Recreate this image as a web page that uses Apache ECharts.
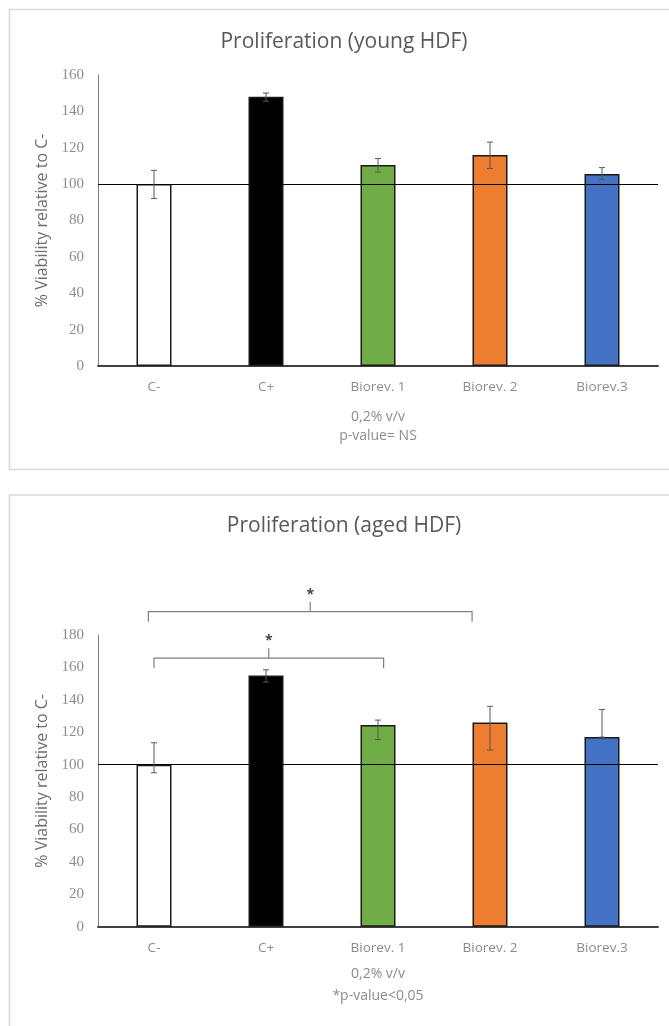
<!DOCTYPE html>
<html>
<head>
<meta charset="utf-8">
<script src="https://cdn.jsdelivr.net/npm/echarts@6/dist/echarts.min.js"></script>
<style>
  html, body { margin: 0; padding: 0; background: #fff; }
  #chart { width: 669px; height: 1026px; }
</style>
</head>
<body>
<div id="chart"></div>
<script>
// categories and colours of the bars
const categories = ['C-', 'C+', 'Biorev. 1', 'Biorev. 2', 'Biorev.3']
const barColors = ['#ffffff', '#000000', '#70ad47', '#ed7d31', '#4472c4']

// young HDF
const youngValues = [100, 148, 110.5, 116, 105.5]
const youngErrPlus = [7.5, 2, 3.5, 7, 3.5]
const youngErrMinus = [8, 2.5, 4, 7.5, 3]

// aged HDF
const agedValues = [100, 155, 124.5, 126, 117]
const agedErrPlus = [13.5, 3.5, 3, 10, 17]
const agedErrMinus = [5, 4, 9, 17, 0]

// significance brackets on the aged chart (category index from/to, value level)
const bracketFrom = [0, -0.05]
const bracketTo = [2.05, 2.84]
const bracketLevel = [165.7, 194.4]

const chart = echarts.init(document.getElementById('chart'))

const labelColor = '#8c8c8c'
const font = 'Open Sans'

function barData(values) {
  return values.map((v, i) => ({
    value: v,
    itemStyle: { color: barColors[i] }
  }))
}

function errData(values, plus, minus) {
  return values.map((v, i) => [i, v, plus[i], minus[i]])
}

function renderError(params, api) {
  const idx = api.value(0)
  const v = api.value(1)
  const hi = api.coord([idx, v + api.value(2)])
  const lo = api.coord([idx, v - api.value(3)])
  const w = 3
  const style = { stroke: '#595959', lineWidth: 1 }
  return {
    type: 'group',
    children: [
      { type: 'line', shape: { x1: hi[0], y1: hi[1], x2: lo[0], y2: lo[1] }, style },
      { type: 'line', shape: { x1: hi[0] - w, y1: hi[1], x2: hi[0] + w, y2: hi[1] }, style },
      { type: 'line', shape: { x1: lo[0] - w, y1: lo[1], x2: lo[0] + w, y2: lo[1] }, style }
    ]
  }
}

function renderBracket(params, api) {
  const from = api.value(0)
  const to = api.value(1)
  const level = api.value(2)
  const x0 = api.coord([0, level])[0]
  const band = api.size([1, 0])[0]
  const y = api.coord([0, level])[1]
  const xa = x0 + from * band
  const xb = x0 + to * band
  const xc = (xa + xb) / 2
  const drop = 10
  const tick = 10
  const style = { stroke: '#7f7f7f', lineWidth: 1.2 }
  return {
    type: 'group',
    children: [
      { type: 'polyline', shape: { points: [[xa, y + drop], [xa, y], [xb, y], [xb, y + drop]] }, style: Object.assign({ fill: 'none' }, style) },
      { type: 'line', shape: { x1: xc, y1: y, x2: xc, y2: y - tick }, style },
      { type: 'text', x: xc, y: y - tick - 7, style: { text: '*', fill: '#404040', font: 'bold 14px Open Sans', align: 'center', verticalAlign: 'middle' } }
    ]
  }
}

const gridDefs = [
  { left: 98, top: 74.8, width: 560, height: 291.2 },
  { left: 98, top: 635, width: 560, height: 291.7 }
]

function xAxisDef(gridIndex, name, gap, lh) {
  return {
    type: 'category',
    gridIndex,
    data: categories,
    axisLine: { lineStyle: { color: '#404040', width: 2 } },
    axisTick: { show: false },
    axisLabel: { color: labelColor, fontFamily: font, fontSize: 13.5, margin: 14 },
    name,
    nameLocation: 'middle',
    nameGap: gap,
    nameTextStyle: { color: labelColor, fontFamily: font, fontSize: 14, lineHeight: lh }
  }
}

function yAxisDef(gridIndex, max) {
  return {
    type: 'value',
    gridIndex,
    min: 0,
    max,
    interval: 20,
    axisLine: { show: true, lineStyle: { color: '#7f7f7f', width: 1 } },
    axisTick: { show: false },
    splitLine: { show: false },
    axisLabel: { color: labelColor, fontFamily: '"Liberation Serif", serif', fontSize: 15, margin: 14 },
    name: '% Viability relative to C-',
    nameLocation: 'middle',
    nameGap: 45,
    nameTextStyle: { color: '#6e6e6e', fontFamily: font, fontSize: 16 }
  }
}

function barSeries(idx, values) {
  return {
    type: 'bar',
    xAxisIndex: idx,
    yAxisIndex: idx,
    data: barData(values),
    barWidth: 35,
    itemStyle: { borderColor: '#1a1a1a', borderWidth: 1.5 },
    silent: true,
    markLine: {
      silent: true,
      symbol: 'none',
      label: { show: false },
      lineStyle: { color: '#000', width: 1, type: 'solid' },
      data: [{ yAxis: 100 }]
    }
  }
}

function errSeries(idx, values, plus, minus) {
  return {
    type: 'custom',
    xAxisIndex: idx,
    yAxisIndex: idx,
    data: errData(values, plus, minus),
    renderItem: renderError,
    z: 5,
    silent: true
  }
}

const titleStyle = { color: '#595959', fontFamily: font, fontSize: 21, fontWeight: 'normal', lineHeight: 26 }

chart.setOption({
  animation: false,
  backgroundColor: '#fff',
  graphic: [
    { type: 'rect', shape: { x: 9.5, y: 9.5, width: 700, height: 460 }, style: { fill: 'none', stroke: '#d9d9d9', lineWidth: 1.5 } },
    { type: 'rect', shape: { x: 9.5, y: 495, width: 700, height: 600 }, style: { fill: 'none', stroke: '#d9d9d9', lineWidth: 1.5 } }
  ],
  title: [
    { text: 'Proliferation (young HDF)', left: 344, textAlign: 'center', top: 29, padding: 0, textStyle: titleStyle },
    { text: 'Proliferation (aged HDF)', left: 344, textAlign: 'center', top: 513, padding: 0, textStyle: titleStyle }
  ],
  grid: gridDefs,
  xAxis: [
    xAxisDef(0, '0,2% v/v\np-value= NS', 42, 19),
    xAxisDef(1, '0,2% v/v\n*p-value<0,05', 36, 22)
  ],
  yAxis: [yAxisDef(0, 160), yAxisDef(1, 180)],
  series: [
    barSeries(0, youngValues),
    errSeries(0, youngValues, youngErrPlus, youngErrMinus),
    barSeries(1, agedValues),
    errSeries(1, agedValues, agedErrPlus, agedErrMinus),
    {
      type: 'custom',
      xAxisIndex: 1,
      yAxisIndex: 1,
      clip: false,
      silent: true,
      data: bracketFrom.map((f, i) => [f, bracketTo[i], bracketLevel[i]]),
      renderItem: renderBracket
    }
  ]
})
</script>
</body>
</html>
